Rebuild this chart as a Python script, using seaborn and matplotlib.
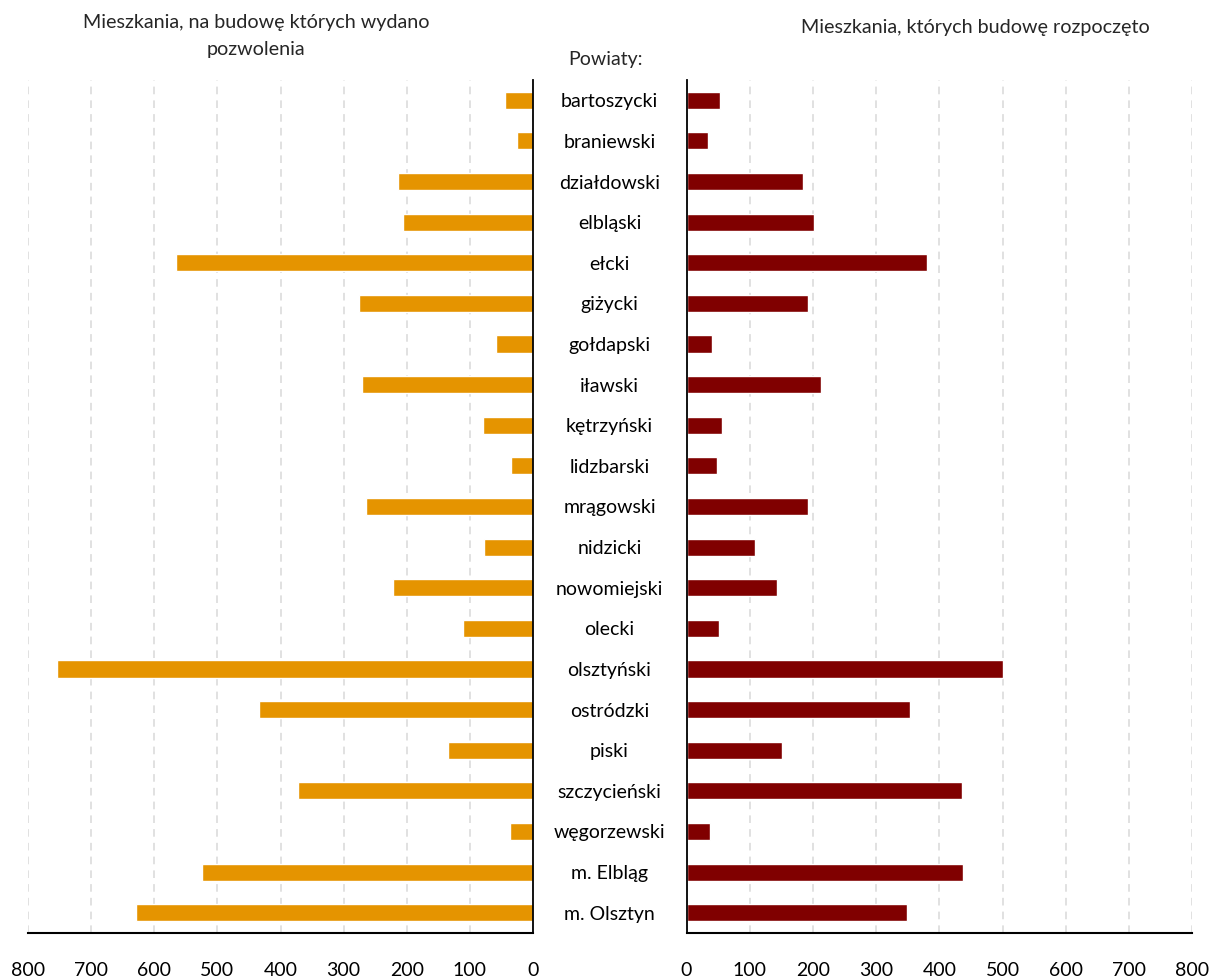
import matplotlib
matplotlib.use("Agg")
import matplotlib.pyplot as plt
import seaborn as sns
import pandas as pd

powiaty = ["bartoszycki", "braniewski", "działdowski", "elbląski", "ełcki", "giżycki",
           "gołdapski", "iławski", "kętrzyński", "lidzbarski", "mrągowski", "nidzicki",
           "nowomiejski", "olecki", "olsztyński", "ostródzki", "piski", "szczycieński",
           "węgorzewski", "m. Elbląg", "m. Olsztyn"]
pozwolenia = [44, 25, 214, 206, 566, 276, 59, 271, 79, 35, 265, 78,
              222, 111, 754, 434, 135, 372, 36, 524, 629]
rozpoczete = [53, 34, 184, 202, 380, 192, 40, 213, 56, 48, 192, 108,
              143, 51, 501, 354, 151, 436, 37, 438, 349]
ticks = [0, 100, 200, 300, 400, 500, 600, 700, 800]

title_left = "Mieszkania, na budowę których wydano\npozwolenia"
title_right = "Mieszkania, których budowę rozpoczęto"
title_mid = "Powiaty:"

df = pd.DataFrame({"powiat": powiaty, "pozwolenia": pozwolenia, "rozpoczete": rozpoczete})

sns.set_theme(style="white")
plt.rcParams["font.family"] = ["Lato", "DejaVu Sans"]

W, H = 1210, 980
fig = plt.figure(figsize=(W / 100, H / 100), dpi=100)
top_px, bot_px = 80, 933
axL = fig.add_axes([28 / W, 1 - bot_px / H, (533 - 28) / W, (bot_px - top_px) / H])
axR = fig.add_axes([686.5 / W, 1 - bot_px / H, (1192.3 - 686.5) / W, (bot_px - top_px) / H])

orange = "#E59400"
darkred = "#800000"

sns.barplot(data=df, x="pozwolenia", y="powiat", ax=axL, color=orange, width=0.42,
            saturation=1, orient="h")
sns.barplot(data=df, x="rozpoczete", y="powiat", ax=axR, color=darkred, width=0.42,
            saturation=1, orient="h")

for ax in (axL, axR):
    ax.set_xlim(0, 800)
    ax.set_ylim(len(powiaty) - 0.5, -0.5)
    ax.set_xticks(ticks)
    ax.set_xticklabels([str(t) for t in ticks])
    ax.set_xlabel("")
    ax.set_ylabel("")
    ax.grid(axis="x", color="#d9d9d9", linestyle=(0, (5, 4)), linewidth=1.1)
    ax.set_axisbelow(True)
    ax.tick_params(axis="x", length=0, pad=21, labelsize=14, colors="#000000")
    for s in ax.spines.values():
        s.set_visible(False)
    ax.spines["bottom"].set_visible(True)
    ax.spines["bottom"].set_color("black")
    ax.spines["bottom"].set_linewidth(1.5)

axL.invert_xaxis()
axL.set_yticks([])
axL.spines["right"].set_visible(True)
axL.spines["right"].set_color("black")
axL.spines["right"].set_linewidth(1.3)

axR.spines["left"].set_visible(True)
axR.spines["left"].set_color("black")
axR.spines["left"].set_linewidth(1.3)
axR.set_yticks(range(len(powiaty)))
axR.set_yticklabels(powiaty)
axR.tick_params(axis="y", length=0, pad=77 * 72 / 100, labelsize=14, colors="#000000")
for lbl in axR.get_yticklabels():
    lbl.set_horizontalalignment("center")

fig.text(256 / W, 1 - 36 / H, title_left, ha="center", va="center", fontsize=14.2,
         linespacing=1.65)
fig.text(975 / W, 1 - 28 / H, title_right, ha="center", va="center", fontsize=14.2)
fig.text(605 / W, 1 - 60 / H, title_mid, ha="center", va="center", fontsize=14)

fig.savefig("out.png", dpi=100)
